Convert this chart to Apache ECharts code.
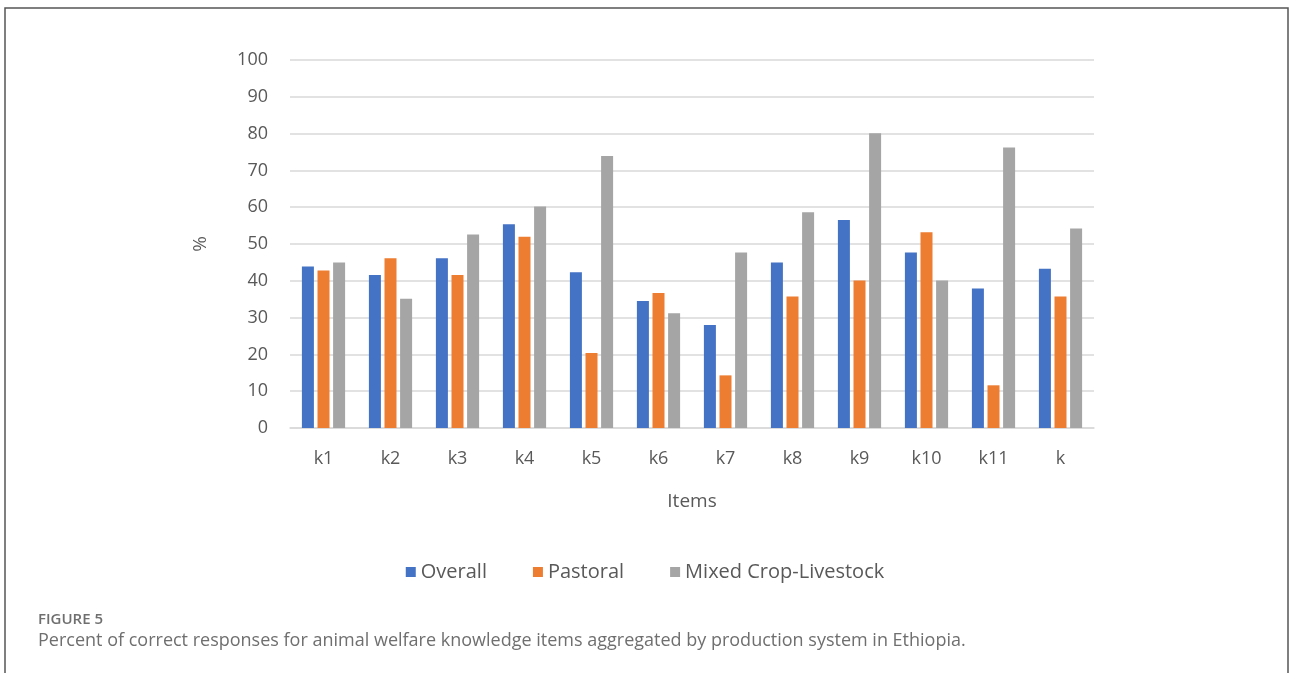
<!DOCTYPE html>
<html>
<head>
<meta charset="utf-8">
<script src="https://cdn.jsdelivr.net/npm/echarts@6/dist/echarts.min.js"></script>
<style>
  html, body { margin: 0; padding: 0; background: #fff; }
  #chart { width: 1290px; height: 673px; }
</style>
</head>
<body>
<div id="chart"></div>
<script>
// Knowledge items on the category axis
const items = ['k1', 'k2', 'k3', 'k4', 'k5', 'k6', 'k7', 'k8', 'k9', 'k10', 'k11', 'k'];

// Percent of correct responses per production system
const overall  = [43.9, 41.6, 46.1, 55.4, 42.3, 34.5, 28.0, 45.0, 56.5, 47.7, 37.9, 43.3];
const pastoral = [42.8, 46.1, 41.6, 52.0, 20.4, 36.7, 14.3, 35.7, 40.1, 53.2, 11.6, 35.7];
const mixed    = [45.0, 35.1, 52.6, 60.2, 73.9, 31.2, 47.7, 58.6, 80.1, 40.1, 76.2, 54.2];

const seriesNames = ['Overall', 'Pastoral', 'Mixed Crop-Livestock'];
const yTicks = { min: 0, max: 100, interval: 10 };

const chart = echarts.init(document.getElementById('chart'), null, { renderer: 'canvas' });

const font = '"Open Sans", "DejaVu Sans", sans-serif';
const axisText = '#595959';

function barSeries(name, data, color) {
  return {
    name: name,
    type: 'bar',
    data: data,
    barWidth: 12,
    barGap: '30%',
    itemStyle: { color: color },
    emphasis: { disabled: true }
  };
}

chart.setOption({
  animation: false,
  backgroundColor: '#ffffff',
  color: ['#4472C4', '#ED7D31', '#A5A5A5'],
  title: [
    {
      text: 'FIGURE 5',
      left: 33, top: 607,
      textStyle: { fontFamily: font, fontSize: 15, fontWeight: 600, color: '#6f6f6f' }
    },
    {
      text: 'Percent of correct responses for animal welfare knowledge items aggregated by production system in Ethiopia.',
      left: 33, top: 627,
      textStyle: { fontFamily: font, fontSize: 18, fontWeight: 'normal', color: '#6f6f6f' }
    }
  ],
  graphic: [
    {
      type: 'rect',
      shape: { x: 5, y: 8, width: 1283, height: 680 },
      style: { fill: 'none', stroke: '#555555', lineWidth: 1.5 },
      silent: true
    }
  ],
  legend: {
    data: seriesNames,
    left: 'center',
    top: 557,
    icon: 'rect',
    itemWidth: 10,
    itemHeight: 10,
    itemGap: 46,
    textStyle: { fontFamily: font, fontSize: 20, color: axisText }
  },
  grid: { left: 290, right: 196, top: 60, bottom: 245, containLabel: false },
  xAxis: {
    type: 'category',
    data: items,
    name: 'Items',
    nameLocation: 'middle',
    nameGap: 64,
    nameTextStyle: { fontFamily: font, fontSize: 19, color: axisText },
    axisLine: { lineStyle: { color: '#d9d9d9', width: 1.5 } },
    axisTick: { show: false },
    axisLabel: { fontFamily: font, fontSize: 18, color: axisText, margin: 22 }
  },
  yAxis: {
    type: 'value',
    min: yTicks.min,
    max: yTicks.max,
    interval: yTicks.interval,
    name: '%',
    nameLocation: 'middle',
    nameGap: 80,
    nameTextStyle: { fontFamily: font, fontSize: 19, color: axisText },
    axisLine: { show: false },
    axisTick: { show: false },
    axisLabel: { fontFamily: font, fontSize: 18, color: axisText, margin: 22 },
    splitLine: { lineStyle: { color: '#d9d9d9', width: 1.5 } }
  },
  series: [
    barSeries(seriesNames[0], overall, '#4472C4'),
    barSeries(seriesNames[1], pastoral, '#ED7D31'),
    barSeries(seriesNames[2], mixed, '#A5A5A5')
  ]
});
</script>
</body>
</html>
